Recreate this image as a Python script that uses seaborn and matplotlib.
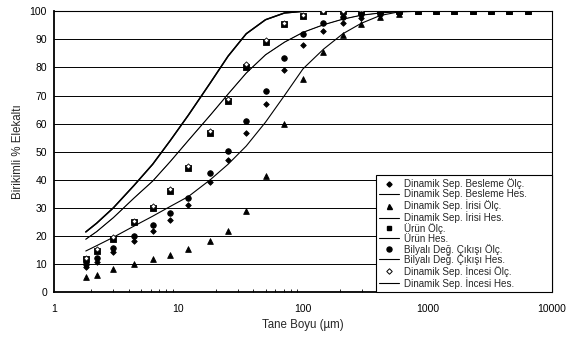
import matplotlib
matplotlib.use("Agg")
import matplotlib.pyplot as plt
import seaborn as sns
import pandas as pd
import numpy as np
from matplotlib.lines import Line2D

# ---- data ----
sizes = [1.8, 2.2, 3.0, 4.4, 6.2, 8.6, 12, 18, 25, 35, 50, 71, 100, 146, 209,
         293, 417, 588, 835, 1172, 1644, 2304, 3236, 4537, 6470]

besleme_olc = [9.0, 10.8, 14.1, 18.3, 21.8, 25.7, 31.0, 39.1, 47.0, 56.5, 67.0, 79.1, 88.0,
               93.0, 96.0, 97.7, 98.7, 99.5, 100, 100, 100, 100, 100, 100, 100]
irisi_olc = [5.2, 6.1, 8.1, 9.9, 11.8, 13.2, 15.2, 18.2, 21.7, 28.9, 41.3, 60.0, 75.9,
             85.5, 91.7, 95.5, 98.1, 99.0, 100, 100, 100, 100, 100, 100, 100]
urun_olc = [11.6, 14.6, 19.0, 24.8, 29.9, 36.0, 44.1, 56.8, 68.0, 80.3, 89.0, 95.4, 98.3,
            100, 100, 100, 100, 100, 100, 100, 100, 100, 100, 100, 100]
bilyali_olc = [10.0, 12.0, 15.8, 19.9, 23.9, 28.3, 33.6, 42.3, 50.2, 60.9, 71.5, 83.3, 91.9,
               95.7, 97.8, 98.9, 99.8, 99.9, 100, 100, 100, 100, 100, 100, 100]
incesi_olc = [12.2, 15.2, 19.6, 25.4, 30.5, 36.6, 44.8, 57.5, 68.8, 81.1, 89.6, 95.8, 98.6,
              100, 100, 100, 100, 100, 100, 100, 100, 100, 100, 100, 100]

# calculated curves
urun_hes = [21.4, 24.5, 30.0, 38.0, 45.5, 54.0, 63.0, 74.5, 84.0, 92.0, 97.0, 99.4, 100,
            100, 100, 100, 100, 100, 100, 100, 100, 100, 100, 100, 100]
incesi_hes = [21.4, 24.5, 30.0, 38.0, 45.5, 54.0, 63.0, 74.5, 84.0, 92.0, 97.0, 99.4, 100,
              100, 100, 100, 100, 100, 100, 100, 100, 100, 100, 100, 100]
besleme_hes = [18.8, 21.5, 26.5, 33.5, 39.5, 46.5, 54.0, 63.0, 70.5, 78.0, 84.5, 89.0, 92.5,
               95.2, 97.2, 98.6, 99.4, 99.9, 100, 100, 100, 100, 100, 100, 100]
bilyali_hes = [18.8, 21.5, 26.5, 33.5, 39.5, 46.5, 54.0, 63.0, 70.5, 78.0, 84.5, 89.0, 92.5,
               95.2, 97.2, 98.6, 99.4, 99.9, 100, 100, 100, 100, 100, 100, 100]
irisi_hes = [14.6, 16.5, 19.5, 23.5, 27.0, 30.5, 34.0, 40.0, 45.5, 52.0, 60.5, 70.0, 79.5,
             86.5, 92.0, 95.7, 98.5, 99.8, 100, 100, 100, 100, 100, 100, 100]

labels = ["Dinamik Sep. Besleme Ölç.", "Dinamik Sep. Besleme Hes.",
          "Dinamik Sep. İrisi Ölç.", "Dinamik Sep. İrisi Hes.",
          "Ürün Ölç.", "Ürün Hes.",
          "Bilyalı Değ. Çıkışı Ölç.", "Bilyalı Değ. Çıkışı Hes.",
          "Dinamik Sep. İncesi Ölç.", "Dinamik Sep. İncesi Hes."]

sns.set_theme(style="white")
plt.rcParams['font.family'] = ['Liberation Sans', 'DejaVu Sans']

fig = plt.figure(figsize=(5.77, 3.40), dpi=100)
ax = fig.add_axes([54/577, 48/340, (552-54)/577, (292-11.3)/340])

# gridlines
ax.set_axisbelow(True)
for v in range(10, 101, 10):
    ax.axhline(v, color='black', lw=0.7, zorder=0)

def line(vals, lw):
    df = pd.DataFrame({"x": sizes, "y": vals})
    sns.lineplot(data=df, x="x", y="y", ax=ax, color='black', lw=lw,
                 estimator=None, sort=False, zorder=2)

line(urun_hes, 1.0)
line(incesi_hes, 1.0)
line(besleme_hes, 0.8)
line(bilyali_hes, 0.3)
line(irisi_hes, 0.8)

def pts(vals, marker, s, fc='black'):
    df = pd.DataFrame({"x": sizes, "y": vals})
    sns.scatterplot(data=df, x="x", y="y", ax=ax, marker=marker, s=s,
                    color=fc, edgecolor='black', linewidth=0.6, zorder=3)

pts(urun_olc, 's', 15)
pts(incesi_olc, 'D', 7, fc='white')
pts(irisi_olc, '^', 17)
pts(bilyali_olc, 'o', 16)
pts(besleme_olc, 'D', 8)

ax.set_xscale('log')
ax.set_xlim(1, 10000)
ax.set_ylim(0, 100)
ax.set_yticks(range(0, 101, 10))
ax.set_xticks([1, 10, 100, 1000, 10000])
ax.set_xticklabels(["1", "10", "100", "1000", "10000"])
ax.tick_params(axis='both', labelsize=7.5, colors='black', length=3, width=0.8)
ax.tick_params(axis='x', which='major', direction='inout', length=5, pad=6)
ax.tick_params(axis='x', which='minor', direction='in', length=2.5, width=0.7, bottom=True)
ax.tick_params(axis='y', direction='out', length=3, pad=2)
ax.xaxis.set_minor_locator(matplotlib.ticker.LogLocator(base=10, subs=np.arange(2, 10)))
ax.xaxis.set_minor_formatter(matplotlib.ticker.NullFormatter())

for side in ['left', 'bottom']:
    ax.spines[side].set_color('black')
    ax.spines[side].set_linewidth(1.3)
for side in ['top', 'right']:
    ax.spines[side].set_color('black')
    ax.spines[side].set_linewidth(0.8)

ax.set_xlabel("Tane Boyu (µm)", fontsize=8.3, labelpad=4)
ax.set_ylabel("Birikimli % Elekaltı", fontsize=8.3, labelpad=4)

lh = lambda: Line2D([], [], color='black', lw=0.8)
handles = [
    Line2D([], [], ls='none', marker='D', ms=2.6, color='black'), lh(),
    Line2D([], [], ls='none', marker='^', ms=3.6, color='black'), lh(),
    Line2D([], [], ls='none', marker='s', ms=3.2, color='black'), lh(),
    Line2D([], [], ls='none', marker='o', ms=3.6, color='black'), lh(),
    Line2D([], [], ls='none', marker='D', ms=2.8, mfc='white', mec='black', mew=0.7), lh(),
]
x0 = (376 - 54) / 498
leg = ax.legend(handles, labels, loc='lower left',
                bbox_to_anchor=(x0, 0.0, 1.0 - x0, 0.4), mode='expand',
                borderaxespad=0, fontsize=7.1, frameon=True, fancybox=False,
                framealpha=1, edgecolor='black', labelspacing=0.0,
                handlelength=2.0, handletextpad=0.5, borderpad=0.35)
leg.get_frame().set_linewidth(0.8)

fig.savefig("out.png", dpi=100)
